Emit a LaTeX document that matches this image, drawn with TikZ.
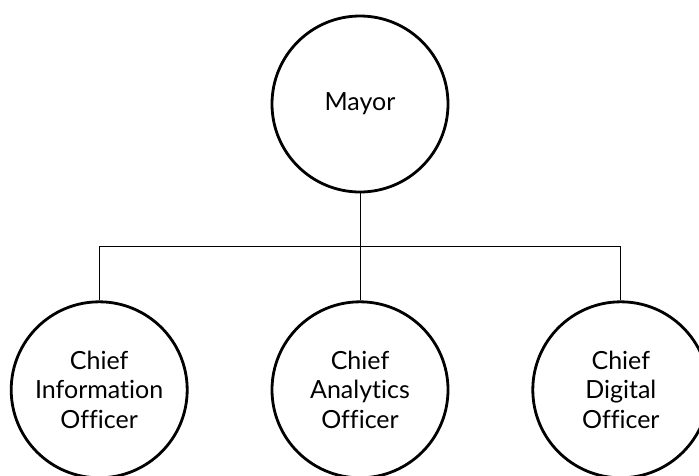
\documentclass[tikz,border=0pt]{standalone}
\usepackage{fontspec}
\setmainfont{Lato}[Ligatures={NoCommon}]
\usetikzlibrary{positioning, calc}
\tikzset{
	person/.style={
		draw,
		circle,
		line width=2.8pt,
		inner sep=0pt,
		minimum size=176pt,
		align=center,
		font=\fontsize{25}{29.5}\selectfont
	},
	link/.style={
		line width=1pt
	}
}

\begin{document}
\begin{tikzpicture}[x=1pt, y=1pt]
	\useasboundingbox (0,0) rectangle (699,-475);
	\begin{scope}[node distance=107pt and 82pt]
	\node[person] (mayor) at (360,-104) {Mayor};
	
	% the three chiefs
	\node[person, below=of mayor] (cao) {Chief\\Analytics\\Officer};
	\node[person, left=of cao] (cio) {Chief\\Information\\Officer};
	\node[person, right=of cao] (cdo) {Chief\\Digital\\Officer};
	
	% connections
	\coordinate (bus) at ($(mayor.south)!0.5!(cao.north)$);
	\draw[link] (mayor.south) -- (cao.north);
	\draw[link] (cio.north) |- (bus) -| (cdo.north);
	\end{scope}
\end{tikzpicture}
\end{document}
